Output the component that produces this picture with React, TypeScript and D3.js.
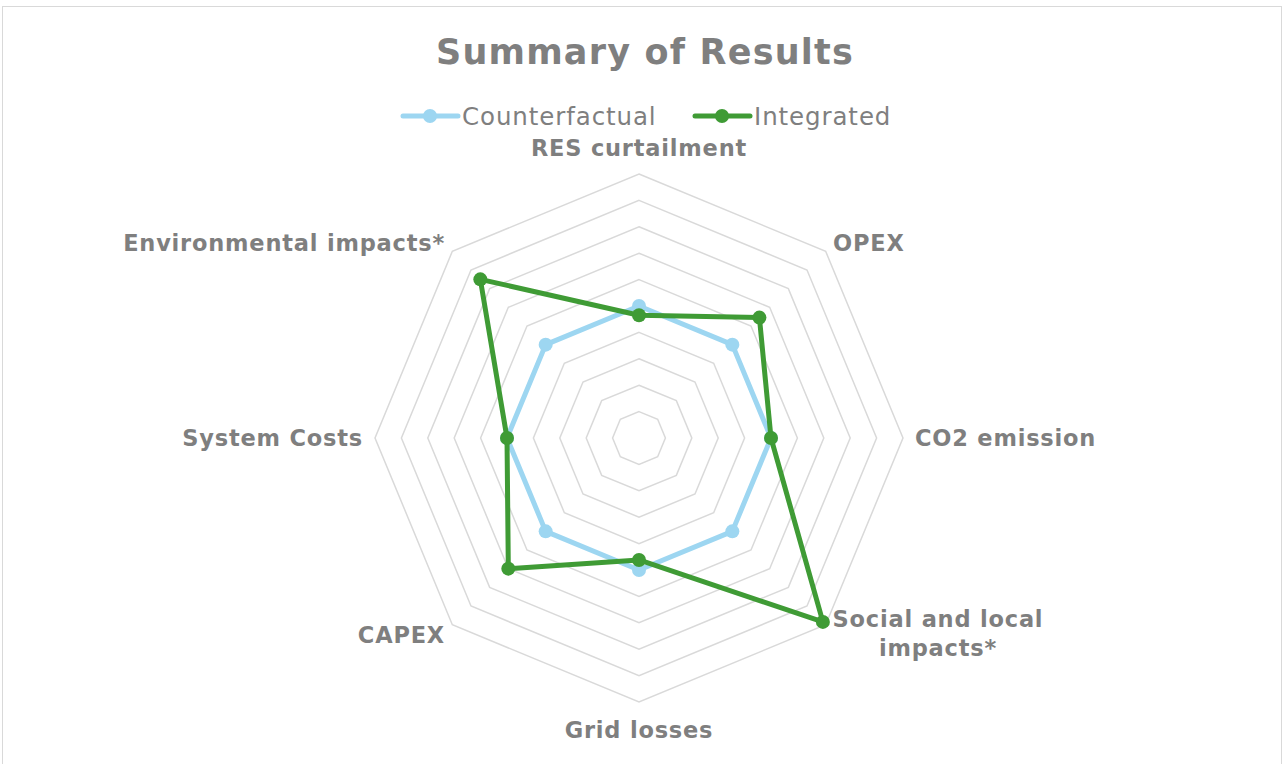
import React, { useEffect, useRef } from 'react'
import * as d3 from 'd3'

const axes = [
  'RES curtailment',
  'OPEX',
  'CO2 emission',
  'Social and local impacts*',
  'Grid losses',
  'CAPEX',
  'System Costs',
  'Environmental impacts*',
]
const counterfactual = [5, 5, 5, 5, 5, 5, 5, 5]
const integrated = [4.65, 6.45, 5, 9.85, 4.62, 7.0, 5, 8.5]
const ringTicks = [1, 2, 3, 4, 5, 6, 7, 8, 9, 10]
const seriesNames = ['Counterfactual', 'Integrated']
const seriesColors = ['#9dd6f1', '#3f9b35']

const width = 1284
const height = 764
const cx = 639
const cy = 438
const radius = 264
const font = '"DejaVu Sans", Verdana, sans-serif'
const textColor = '#7f7f7f'

// label placement: [x, y, anchor, lines]
const labelPos: [number, number, string, string[]][] = [
  [639, 156, 'middle', ['RES curtailment']],
  [833, 251, 'start', ['OPEX']],
  [915, 446, 'start', ['CO2 emission']],
  [938, 627, 'middle', ['Social and local', 'impacts*']],
  [639, 738, 'middle', ['Grid losses']],
  [445, 643, 'end', ['CAPEX']],
  [363, 446, 'end', ['System Costs']],
  [445, 251, 'end', ['Environmental impacts*']],
]

export default function App() {
  const svgRef = useRef<SVGSVGElement>(null)

  useEffect(() => {
    const svg = d3.select(svgRef.current)
    svg.selectAll('*').remove()

    const r = d3.scaleLinear().domain([0, 10]).range([0, radius])
    const angle = (i: number) => (i * 2 * Math.PI) / axes.length

    svg.append('rect')
      .attr('x', 2.5).attr('y', 6.5)
      .attr('width', 1279).attr('height', 780)
      .attr('fill', '#fff').attr('stroke', '#d9d9d9')

    const g = svg.append('g').attr('transform', `translate(${cx},${cy})`)

    const radial = d3.lineRadial<number>()
      .angle((d, i) => angle(i))
      .radius(d => r(d))
      .curve(d3.curveLinearClosed)

    // grid rings
    g.selectAll('.ring')
      .data(ringTicks)
      .enter().append('path')
      .attr('d', t => radial(axes.map(() => t)))
      .attr('fill', 'none')
      .attr('stroke', '#d9d9d9')
      .attr('stroke-width', 1.5)

    // series
    const all = [counterfactual, integrated]
    all.forEach((vals, si) => {
      g.append('path')
        .attr('d', radial(vals))
        .attr('fill', 'none')
        .attr('stroke', seriesColors[si])
        .attr('stroke-width', 5)
        .attr('stroke-linejoin', 'round')
      g.selectAll(`.pt${si}`)
        .data(vals)
        .enter().append('circle')
        .attr('cx', (d, i) => r(d) * Math.sin(angle(i)))
        .attr('cy', (d, i) => -r(d) * Math.cos(angle(i)))
        .attr('r', 7)
        .attr('fill', seriesColors[si])
    })

    // axis labels
    labelPos.forEach(([x, y, anchor, lines]) => {
      const t = svg.append('text')
        .attr('x', x).attr('y', y)
        .attr('text-anchor', anchor)
        .style('font-family', font)
        .style('font-weight', 'bold')
        .style('font-size', '22.5px')
        .style('letter-spacing', '0.8px')
        .style('fill', textColor)
      lines.forEach((l, k) => {
        t.append('tspan').attr('x', x).attr('dy', k === 0 ? 0 : 29).text(l)
      })
    })

    // title
    svg.append('text')
      .attr('x', 645).attr('y', 64)
      .attr('text-anchor', 'middle')
      .style('font-family', font)
      .style('font-weight', 'bold')
      .style('font-size', '35px')
      .style('letter-spacing', '1.2px')
      .style('fill', textColor)
      .text('Summary of Results')

    // legend
    const legendX = [403, 695]
    seriesNames.forEach((name, i) => {
      const lg = svg.append('g').attr('transform', `translate(${legendX[i]},116)`)
      lg.append('line')
        .attr('x1', 0).attr('x2', 55)
        .attr('stroke', seriesColors[i]).attr('stroke-width', 5)
        .attr('stroke-linecap', 'round')
      lg.append('circle').attr('cx', 27).attr('r', 7).attr('fill', seriesColors[i])
      lg.append('text')
        .attr('x', 59).attr('dy', '0.35em')
        .style('font-family', font)
        .style('font-size', '24.5px')
        .style('letter-spacing', '0.9px')
        .style('fill', textColor)
        .text(name)
    })
  }, [])

  return (
    <div style={{ position: 'absolute', left: 0, top: 0 }}>
      <svg ref={svgRef} width={width} height={height} style={{ display: 'block' }} />
    </div>
  )
}
